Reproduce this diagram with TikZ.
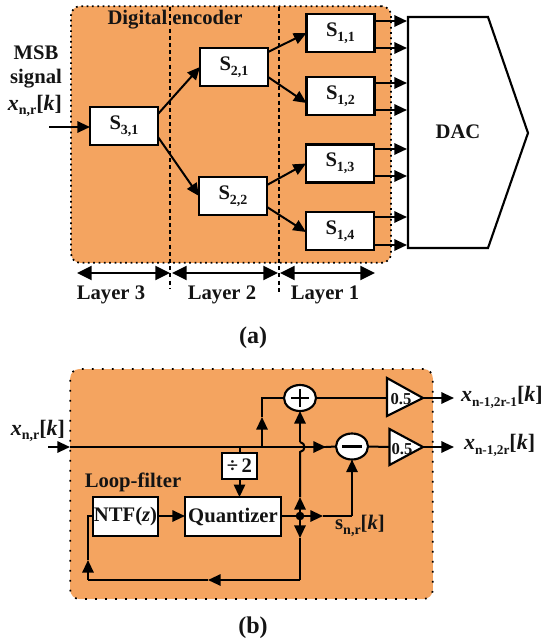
\documentclass[tikz,border=0pt]{standalone}
\usepackage{fontspec}
\setmainfont{Liberation Serif}
\usetikzlibrary{arrows.meta,shapes.geometric}
\definecolor{panelfill}{HTML}{F4A460}
\newcommand{\lowtxt}[1]{\raisebox{-0.22em}{\fontsize{10.5}{11}\selectfont #1}}
\newcommand{\lowtiny}[1]{\raisebox{-0.22em}{\fontsize{10}{11}\selectfont #1}}
\newcommand{\sigx}[1]{{\fontsize{16.5}{17}\selectfont\textit{x}\lowtxt{#1}[\textit{k}]}}
\newcommand{\sigy}[1]{{\fontsize{16.5}{17}\selectfont\textit{x}\lowtiny{#1}[\textit{k}]}}
\tikzset{
  every node/.style={font=\bfseries\fontsize{15.5}{17}\selectfont,inner sep=0pt,outer sep=0pt,text=black!92},
  panel/.style={fill=panelfill,draw=black,line width=1.3pt,rounded corners=7pt},
  blockbox/.style={draw=black,fill=white,line width=1.6pt,anchor=center},
  sumnode/.style={ellipse,draw=black,fill=white,line width=1.6pt,minimum width=24pt,minimum height=19.5pt},
  wire/.style={line width=1.5pt,draw=black},
  arrowwire/.style={wire,-{Triangle[length=9.5pt,width=8.5pt]}},
  widearrow/.style={line width=1.6pt,{Triangle[length=11pt,width=10.5pt]}-{Triangle[length=11pt,width=10.5pt]}},
  sep/.style={line width=1.6pt,dash pattern=on 3pt off 2.4pt},
  gainshape/.style={draw=black,fill=white,line width=1.6pt,line join=miter},
  gaintext/.style={font=\bfseries\fontsize{12.5}{13}\selectfont},
  captiontext/.style={font=\bfseries\fontsize{18}{20}\selectfont},
}
\begin{document}
\begin{tikzpicture}[x=0.75pt,y=-0.75pt]
\useasboundingbox (0,0) rectangle (542,643);
% ---------- panel (a) ----------
\node[panel,dash pattern=on 1.3pt off 2.7pt,minimum width=240pt,minimum height=192.5pt] (pa) at (231,134.5) {};
\node (title) at (175,20) {Digital encoder};
\coordinate (sa1) at (170,7); \coordinate (sa2) at (170,288);
\coordinate (sb1) at (279,7); \coordinate (sb2) at (279,292);
\draw[sep] (sa1) -- (sa2);
\draw[sep] (sb1) -- (sb2);
\foreach \n/\t/\cx/\cy in {s31/{3,1}/124/126,s21/{2,1}/234/67,s22/{2,2}/233/196,s11/{1,1}/340.5/33,s12/{1,2}/340.5/96,s13/{1,3}/340/163.5,s14/{1,4}/340/231}
  \node[blockbox,minimum width=51pt,minimum height=28.5pt] (\n) at (\cx,\cy) {S\lowtxt{\t}};
\draw[blockbox] (408,17) -- (488,17) -- (528,133) -- (488,248) -- (408,248) -- cycle;
\node (dac) at (458,132) {DAC};
\node[align=center] (msb) at (36,53) {MSB};
\node (signal) at (36,79) {signal};
\node (xin) at (35,106) {\sigx{n,r}};
\coordinate (ain) at (49,127);
\draw[arrowwire] (ain) -- (ain -| s31.west);
\draw[arrowwire] (s31.east |- 0,114) -- (s21.west);
\draw[arrowwire] (s31.east |- 0,137) -- (s22.west);
\draw[arrowwire] (s21.east |- 0,52) -- (s11.west);
\draw[arrowwire] (s21.east |- 0,77) -- (s12.west |- 0,103);
\draw[arrowwire] (s22.east |- 0,185) -- (s13.west);
\draw[arrowwire] (s22.east |- 0,207) -- (s14.west |- 0,232);
\foreach \n/\a/\b/\i in {s11/21/48/1,s12/83/110/2,s13/149/176/3,s14/217/245/4}{
  \coordinate (d\i a) at (407,\a); \coordinate (d\i b) at (407,\b);
  \draw[arrowwire] (\n.east |- d\i a) -- (d\i a);
  \draw[arrowwire] (\n.east |- d\i b) -- (d\i b);
}
\coordinate (la) at (77,273); \coordinate (lb) at (170,273); \coordinate (lc) at (172,273);
\coordinate (ld) at (278,273); \coordinate (le) at (280,273); \coordinate (lf) at (375,273);
\draw[widearrow] (la) -- (lb);
\draw[widearrow] (lc) -- (ld);
\draw[widearrow] (le) -- (lf);
\node (l3) at (111,295) {Layer 3};
\node (l2) at (222,295) {Layer 2};
\node (l1) at (325,295) {Layer 1};
\node[captiontext] (capa) at (253,338) {(a)};
% ---------- panel (b) ----------
\node[panel,dash pattern=on 1.3pt off 6.2pt,minimum width=272pt,minimum height=172.5pt] (pb) at (251.5,484) {};
\node (xinb) at (38,431) {\sigx{n,r}};
\node[sumnode] (plus) at (300,398) {};
\draw[line width=1.6pt] (plus.center) +(-9,0) -- +(9,0) (plus.center) +(0,-9) -- +(0,9);
\node[sumnode] (minus) at (352,446.5) {};
\draw[line width=1.6pt] (minus.center) +(-10,0) -- +(10,0);
\node[blockbox,minimum width=26.5pt,minimum height=19.5pt] (div) at (239.5,466) {÷\,2};
\node[blockbox,minimum width=72pt,minimum height=29pt] (quant) at (233,516.5) {Quantizer};
\node[blockbox,minimum width=49pt,minimum height=29pt] (ntf) at (125.5,516.5) {NTF(\textit{z})};
\node (lf) at (133,482) {Loop-filter};
\node[fill=black,circle,minimum size=6.5pt] (jn) at (300,516) {};
\coordinate (gt) at (423,398); \coordinate (gb) at (423,447);
\draw[gainshape] (387,378) -- (387,416) -- (gt) -- cycle;
\draw[gainshape] (389.5,429) -- (389.5,465) -- (gb) -- cycle;
\node[gaintext] (g1) at (401,399) {0.5};
\node[gaintext] (g2) at (402,449) {0.5};
\coordinate (in0) at (48,447); \coordinate (in1) at (70,447);
\coordinate (tapd) at (239.5,447); \coordinate (tapp) at (262,447);
\coordinate (tappm) at (262,417); \coordinate (tappc) at (262,398);
\coordinate (mm) at (326,447);
\draw[arrowwire] (in0) -- (in1);
\draw[wire] (in1) -- (mm);
\draw[arrowwire] (tapp) -- (mm);
\draw[wire] (mm) -- (minus.west);
\draw[wire] (tapd) -- (div.north);
\draw[arrowwire] (div.south) -- (div.south |- quant.north);
\draw[arrowwire] (tapp) -- (tappm);
\draw[wire] (tappm) -- (tappc) -- (plus.west);
\draw[arrowwire] (ntf.east |- 0,516) -- (quant.west |- 0,516);
\draw[wire] (quant.east |- 0,516) -- (jn);
\coordinate (jr) at (323,516); \coordinate (jc) at (352,516);
\draw[arrowwire] (jn) -- (jr);
\draw[wire] (jr) -- (jc);
\draw[arrowwire] (jc) -- (minus.south);
% vertical from the junction up to the adder, hopping the main line
\coordinate (h1) at (300,452); \coordinate (h2) at (300,442); \coordinate (vu) at (300,497);
\draw[arrowwire] (jn) -- (vu);
\draw[wire] (vu) -- (h1) .. controls (306,451) and (306,443) .. (h2);
\draw[arrowwire] (h2) -- (plus.south);
% feedback
\coordinate (vd) at (300,538); \coordinate (fb1) at (300,580); \coordinate (fbm) at (208,580);
\coordinate (fb2) at (88,580); \coordinate (fbu) at (88,560); \coordinate (fb3) at (88,516);
\draw[arrowwire] (jn) -- (vd);
\draw[wire] (vd) -- (fb1);
\draw[arrowwire] (fb1) -- (fbm);
\draw[wire] (fbm) -- (fb2);
\draw[arrowwire] (fb2) -- (fbu);
\draw[wire] (fbu) -- (fb3) -- (ntf.west |- fb3);
\coordinate (o1) at (454,398); \coordinate (o2) at (454,447);
\draw[wire] (plus.east) -- (387,398);
\draw[wire] (minus.east) -- (389.5,447);
\draw[arrowwire] (gt) -- (o1);
\draw[arrowwire] (gb) -- (o2);
\node[anchor=west] (xo1) at (461,397) {\sigy{n-1,2r-1}};
\node[anchor=west] (xo2) at (464,445) {\sigy{n-1,2r}};
\node (snr) at (360,526) {s\lowtxt{n,r}[\textit{k}]};
\node[captiontext] (capb) at (253,628) {(b)};
\end{tikzpicture}
\end{document}
